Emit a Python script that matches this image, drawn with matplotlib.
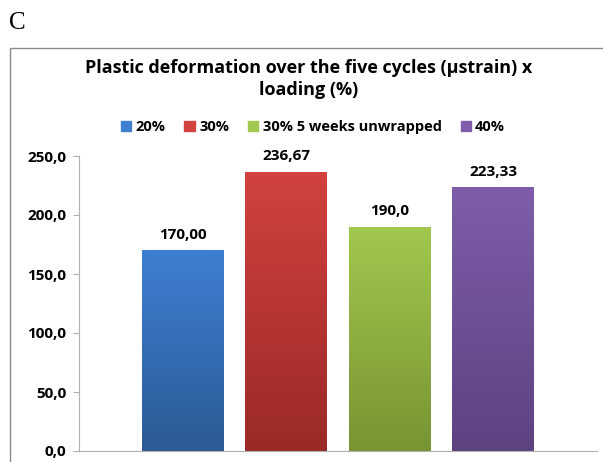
import numpy as np
import matplotlib
matplotlib.use("Agg")
import matplotlib.pyplot as plt
from matplotlib.patches import Rectangle
from matplotlib.ticker import FuncFormatter

# data
series = ["20%", "30%", "30% 5 weeks unwrapped", "40%"]
values = [170.00, 236.67, 190.0, 223.33]
value_labels = ["170,00", "236,67", "190,0", "223,33"]
top_colors = ["#3E7FD2", "#D2423E", "#A2C84E", "#7F5DAA"]
bottom_colors = ["#2C5A94", "#9A2A27", "#779433", "#5C4380"]
yticks = [0, 50, 100, 150, 200, 250]

plt.rcParams["font.family"] = ["Open Sans", "DejaVu Sans"]

fig = plt.figure(figsize=(6.03, 4.62), dpi=100)
W, H = 603, 462

# outer chart border (runs off right and bottom edges)
fig.patches.append(Rectangle((10 / W, -0.1), 1.2, 1 - 48 / H + 0.1,
                             transform=fig.transFigure, fill=False,
                             edgecolor="#8a8a8a", linewidth=1.0))

fig.text(9 / W, 1 - 23 / H, "C", family="Liberation Serif", fontsize=18,
         va="center", ha="left")

ax = fig.add_axes([79 / W, 1 - 451 / H, 518 / W, 295 / H])

x = np.arange(len(values))
bw = 0.79
bars = ax.bar(x, values, width=bw, color="none", edgecolor="none")

# vertical gradient fill, lighter at top
for b, c0, c1 in zip(bars, top_colors, bottom_colors):
    t = np.linspace(0, 1, 200)[:, None]
    a = np.array(matplotlib.colors.to_rgb(c1))
    z = np.array(matplotlib.colors.to_rgb(c0))
    img = (a + (z - a) * t)[:, None, :]
    im = ax.imshow(img, extent=(b.get_x(), b.get_x() + b.get_width(), 0, b.get_height()),
                   origin="lower", aspect="auto", zorder=2)
    im.set_clip_path(b)

for xi, v, lab in zip(x, values, value_labels):
    ax.annotate(lab, (xi, v), xytext=(0, 6), textcoords="offset points",
                ha="center", va="bottom", fontsize=11, fontweight="bold")

ax.set_xlim(-1.0, 4.0)
ax.set_ylim(0, 250)
ax.set_yticks(yticks)
ax.yaxis.set_major_formatter(FuncFormatter(lambda v, p: f"{v:.1f}".replace(".", ",")))
ax.set_xticks([])
for s in ["top", "right"]:
    ax.spines[s].set_visible(False)
ax.spines["left"].set_color("#b0b0b0")
ax.spines["bottom"].set_color("#b0b0b0")
ax.tick_params(axis="y", length=4, color="#b0b0b0", pad=5, labelsize=11)
for t in ax.get_yticklabels():
    t.set_fontweight("bold")

fig.text(309 / W, 1 - 68 / H, "Plastic deformation over the five cycles (µstrain) x",
         ha="center", va="center", fontsize=13, fontweight="bold")
fig.text(309 / W, 1 - 90 / H, "loading (%)",
         ha="center", va="center", fontsize=13, fontweight="bold")

handles = [Rectangle((0, 0), 1, 1, color=c) for c in top_colors]
fig.legend(handles, series, loc="center", bbox_to_anchor=(313 / W, 1 - 127 / H),
           ncol=4, frameon=False, handlelength=0.7, handleheight=0.7,
           handletextpad=0.3, columnspacing=1.3,
           prop={"weight": "bold", "size": 10.5})

fig.savefig("out.png", dpi=100)
